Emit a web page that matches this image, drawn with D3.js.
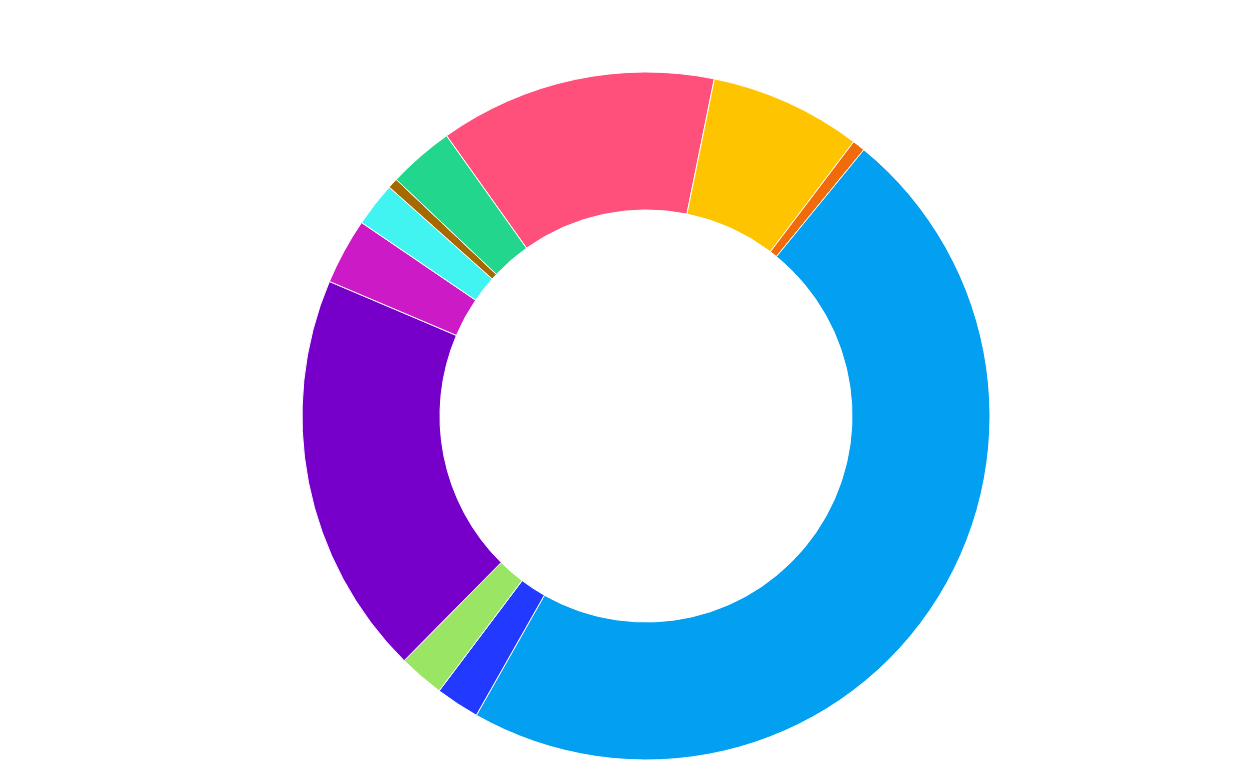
<!DOCTYPE html>
<meta charset="utf-8">
<style>
body { margin: 0; background: #fff; }
.slice { stroke: #fff; stroke-width: 1px; }
</style>
<body>
<div id="vis-container"></div>
<script src="https://cdn.jsdelivr.net/npm/d3@7"></script>
<script>

// slice data, clockwise starting from the pink slice
var categories = ['A', 'B', 'C', 'D', 'E', 'F', 'G', 'H', 'I', 'J', 'K'];
var values = [13.03, 7.13, 0.6, 47.30, 2.06, 2.14, 18.99, 3.11, 2.08, 0.48, 3.09];
var colors = ['#ff4f7b', '#ffc400', '#f26b0a', '#039ff0', '#2239ff', '#9be564',
              '#7600c9', '#cd1ac7', '#42f4f1', '#a66900', '#22d68d'];

var width = 1246, height = 778;
var cx = 646, cy = 416;
var outerR = 344, innerR = 206;
var startDeg = -35.44;

var svg = d3.select("#vis-container").append("svg")
  .attr("width", width)
  .attr("height", height)
  .append("g")
  .attr("transform", "translate(" + cx + "," + cy + ")");

var pie = d3.pie()
  .sort(null)
  .startAngle(startDeg * Math.PI / 180)
  .endAngle(startDeg * Math.PI / 180 + 2 * Math.PI);

var arc = d3.arc()
  .innerRadius(innerR)
  .outerRadius(outerR);

var color = d3.scaleOrdinal().domain(categories).range(colors);

svg.selectAll(".slice")
  .data(pie(values))
  .enter().append("path")
  .attr("class", "slice")
  .attr("d", arc)
  .attr("fill", function(d, i) { return color(categories[i]); });

</script>
</body>
</html>
